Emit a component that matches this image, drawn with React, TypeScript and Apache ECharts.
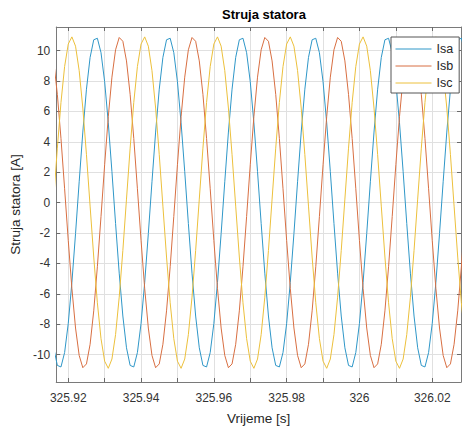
import React, { useEffect, useRef } from "react";
import * as echarts from "echarts";

// Sampling grid of the recorded signal
const T0 = 325.916;
const DT = 0.001;

// Stator currents [A], one sample per millisecond
const isa = [
  -9.55, -10.71, -10.81, -9.86, -7.95, -5.25, -2.04, 1.37, 4.64, 7.46, 9.55, 10.71, 10.81, 9.86, 7.95, 5.25, 2.04, -1.37, -4.64, -7.46,
  -9.55, -10.71, -10.81, -9.86, -7.95, -5.25, -2.04, 1.37, 4.64, 7.46, 9.55, 10.71, 10.81, 9.86, 7.95, 5.25, 2.04, -1.37, -4.64, -7.46,
  -9.55, -10.71, -10.81, -9.86, -7.95, -5.25, -2.04, 1.37, 4.64, 7.46, 9.55, 10.71, 10.81, 9.86, 7.95, 5.25, 2.04, -1.37, -4.64, -7.46,
  -9.55, -10.71, -10.81, -9.86, -7.95, -5.25, -2.04, 1.37, 4.64, 7.46, 9.55, 10.71, 10.81, 9.86, 7.95, 5.25, 2.04, -1.37, -4.64, -7.46,
  -9.55, -10.71, -10.81, -9.86, -7.95, -5.25, -2.04, 1.37, 4.64, 7.46, 9.55, 10.71, 10.81, 9.86, 7.95, 5.25, 2.04, -1.37, -4.64, -7.46,
  -9.55, -10.71, -10.81, -9.86, -7.95, -5.25, -2.04, 1.37, 4.64, 7.46, 9.55, 10.71, 10.81, 9.86,
];
const isb = [
  9.32, 7.12, 4.22, 0.91, -2.49, -5.65, -8.25, -10.05, -10.86, -10.61, -9.32, -7.12, -4.22, -0.91, 2.49, 5.65, 8.25, 10.05, 10.86, 10.61,
  9.32, 7.12, 4.22, 0.91, -2.49, -5.65, -8.25, -10.05, -10.86, -10.61, -9.32, -7.12, -4.22, -0.91, 2.49, 5.65, 8.25, 10.05, 10.86, 10.61,
  9.32, 7.12, 4.22, 0.91, -2.49, -5.65, -8.25, -10.05, -10.86, -10.61, -9.32, -7.12, -4.22, -0.91, 2.49, 5.65, 8.25, 10.05, 10.86, 10.61,
  9.32, 7.12, 4.22, 0.91, -2.49, -5.65, -8.25, -10.05, -10.86, -10.61, -9.32, -7.12, -4.22, -0.91, 2.49, 5.65, 8.25, 10.05, 10.86, 10.61,
  9.32, 7.12, 4.22, 0.91, -2.49, -5.65, -8.25, -10.05, -10.86, -10.61, -9.32, -7.12, -4.22, -0.91, 2.49, 5.65, 8.25, 10.05, 10.86, 10.61,
  9.32, 7.12, 4.22, 0.91, -2.49, -5.65, -8.25, -10.05, -10.86, -10.61, -9.32, -7.12, -4.22, -0.91,
];
const isc = [
  0.23, 3.58, 6.59, 8.95, 10.43, 10.9, 10.29, 8.68, 6.22, 3.15, -0.23, -3.58, -6.59, -8.95, -10.43, -10.9, -10.29, -8.68, -6.22, -3.15,
  0.23, 3.58, 6.59, 8.95, 10.43, 10.9, 10.29, 8.68, 6.22, 3.15, -0.23, -3.58, -6.59, -8.95, -10.43, -10.9, -10.29, -8.68, -6.22, -3.15,
  0.23, 3.58, 6.59, 8.95, 10.43, 10.9, 10.29, 8.68, 6.22, 3.15, -0.23, -3.58, -6.59, -8.95, -10.43, -10.9, -10.29, -8.68, -6.22, -3.15,
  0.23, 3.58, 6.59, 8.95, 10.43, 10.9, 10.29, 8.68, 6.22, 3.15, -0.23, -3.58, -6.59, -8.95, -10.43, -10.9, -10.29, -8.68, -6.22, -3.15,
  0.23, 3.58, 6.59, 8.95, 10.43, 10.9, 10.29, 8.68, 6.22, 3.15, -0.23, -3.58, -6.59, -8.95, -10.43, -10.9, -10.29, -8.68, -6.22, -3.15,
  0.23, 3.58, 6.59, 8.95, 10.43, 10.9, 10.29, 8.68, 6.22, 3.15, -0.23, -3.58, -6.59, -8.95,
];

const seriesNames = ["Isa", "Isb", "Isc"];

// Axis ticks and labels
const xTicks = [325.92, 325.93, 325.94, 325.95, 325.96, 325.97, 325.98, 325.99, 326, 326.01, 326.02];
const xLabels = [325.92, 325.94, 325.96, 325.98, 326, 326.02];
const yTicks = [-10, -8, -6, -4, -2, 0, 2, 4, 6, 8, 10];
const X_MIN = 325.9167;
const X_MAX = 326.0279;
const Y_MIN = -11.8;
const Y_MAX = 11.55;

const FONT = "'Liberation Sans', Arial, Helvetica, sans-serif";
const COLORS = ["#2f97c8", "#d86f42", "#ecc03c"];

export default function App() {
  const ref = useRef<HTMLDivElement>(null);

  useEffect(() => {
    if (!ref.current) return;
    const chart = echarts.init(ref.current, undefined, { renderer: "svg" });

    const toPairs = (vals: number[]) =>
      vals.map((v, i) => [Number((T0 + i * DT).toFixed(3)), v]);

    const axisLineStyle = { color: "#7a7a7a", width: 1 };
    const tickStyle = { color: "#6a6a6a", width: 1 };

    chart.setOption({
      animation: false,
      backgroundColor: "#ffffff",
      color: COLORS,
      textStyle: { fontFamily: FONT },
      title: {
        text: "Struja statora",
        left: 259,
        top: 3,
        textAlign: "center",
        textStyle: { fontFamily: FONT, fontSize: 13, fontWeight: "bold", color: "#000" },
      },
      grid: { left: 56, top: 27, width: 405, height: 356, containLabel: false },
      legend: {
        data: seriesNames,
        orient: "vertical",
        left: 391,
        top: 37,
        itemWidth: 36,
        itemHeight: 14,
        itemGap: 3,
        padding: [5, 6, 3, 4],
        backgroundColor: "#ffffff",
        borderColor: "#555555",
        borderWidth: 1,
        borderRadius: 0,
        itemStyle: { opacity: 0 },
        lineStyle: { width: 1 },
        textStyle: { fontFamily: FONT, fontSize: 12.5, color: "#262626", lineHeight: 14 },
      },
      xAxis: [
        {
          type: "value",
          min: X_MIN,
          max: X_MAX,
          position: "bottom",
          name: "Vrijeme [s]",
          nameLocation: "middle",
          nameGap: 29,
          nameTextStyle: { fontFamily: FONT, fontSize: 13.5, color: "#262626" },
          axisLine: { show: true, onZero: false, lineStyle: axisLineStyle },
          axisTick: { show: true, inside: true, length: 4, lineStyle: tickStyle, customValues: xTicks },
          axisLabel: {
            show: true,
            margin: 10,
            customValues: xLabels,
            fontFamily: FONT,
            fontSize: 12,
            color: "#333333",
            formatter: (v: number) => String(Number(v.toFixed(2))),
          },
          splitLine: { show: true, lineStyle: { color: "#e0e0e0", width: 1 } },
        },
        {
          type: "value",
          min: X_MIN,
          max: X_MAX,
          position: "top",
          axisLine: { show: true, onZero: false, lineStyle: axisLineStyle },
          axisTick: { show: true, inside: true, length: 4, lineStyle: tickStyle, customValues: xTicks },
          axisLabel: { show: false },
          splitLine: { show: false },
        },
      ],
      yAxis: [
        {
          type: "value",
          min: Y_MIN,
          max: Y_MAX,
          position: "left",
          name: "Struja statora [A]",
          nameLocation: "middle",
          nameGap: 25,
          nameTextStyle: { fontFamily: FONT, fontSize: 13.5, color: "#262626" },
          axisLine: { show: true, onZero: false, lineStyle: axisLineStyle },
          axisTick: { show: true, inside: true, length: 4, lineStyle: tickStyle, customValues: yTicks },
          axisLabel: {
            show: true,
            margin: 6,
            customValues: yTicks,
            fontFamily: FONT,
            fontSize: 12,
            color: "#333333",
          },
          splitLine: { show: true, lineStyle: { color: "#e0e0e0", width: 1 } },
        },
        {
          type: "value",
          min: Y_MIN,
          max: Y_MAX,
          position: "right",
          axisLine: { show: true, onZero: false, lineStyle: axisLineStyle },
          axisTick: { show: true, inside: true, length: 4, lineStyle: tickStyle, customValues: yTicks },
          axisLabel: { show: false },
          splitLine: { show: false },
        },
      ],
      series: [isa, isb, isc].map((vals, i) => ({
        name: seriesNames[i],
        type: "line",
        xAxisIndex: 0,
        yAxisIndex: 0,
        data: toPairs(vals),
        showSymbol: false,
        symbol: "none",
        clip: true,
        lineStyle: { width: 1, color: COLORS[i] },
        itemStyle: { color: COLORS[i] },
        emphasis: { disabled: true },
      })),
    });

    return () => chart.dispose();
  }, []);

  return (
    <div
      ref={ref}
      style={{ position: "fixed", left: 0, top: 0, width: 462, height: 430, background: "#fff" }}
    />
  );
}
